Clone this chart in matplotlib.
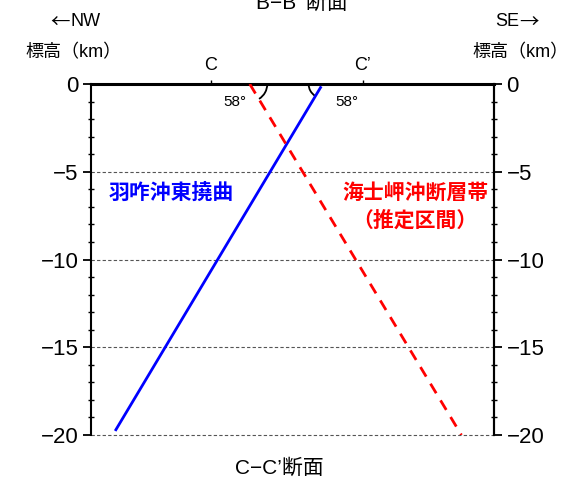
import numpy as np
import matplotlib
matplotlib.use('Agg')
import matplotlib.pyplot as plt
from matplotlib.patches import Arc

plt.rcParams['font.family'] = ['Liberation Sans', 'Noto Sans CJK JP', 'DejaVu Sans']
plt.rcParams['axes.unicode_minus'] = True

# data (km)
x_range = [0, 23]
y_range = [-20, 0]
y_ticks = [0, -5, -10, -15, -20]
grid_y = [-5, -10, -15, -20]
x_marks = [6.85, 15.5]
x_mark_labels = ['C', 'C\u2019']
blue_x = [1.42, 13.1]
blue_y = [-19.7, -0.2]
red_x = [9.06, 21.14]
red_y = [0.0, -20.0]
dip = 58

fig = plt.figure(figsize=(5.67, 4.8), dpi=100)
ax = fig.add_axes([91/567, 1-435/480, 403/567, 351/480])
ax.set_xlim(x_range)
ax.set_ylim(y_range)

for g in grid_y:
    ax.axhline(g, color='#555555', lw=0.8, ls=(0, (3, 2)), zorder=1, clip_on=False)

ax.plot(blue_x, blue_y, color='#0000ff', lw=2, zorder=3)
ax.plot(red_x, red_y, color='#ff0000', lw=2, ls=(0, (4, 3)), zorder=3)

# dip angle arcs
ax.add_patch(Arc((red_x[0], 0), 2.0, 2.0, theta1=-dip, theta2=0, color='k', lw=1.3, clip_on=False))
bx_top = blue_x[1] + (0 - blue_y[1]) * (blue_x[1] - blue_x[0]) / (blue_y[1] - blue_y[0])
ax.add_patch(Arc((bx_top, 0), 1.6, 1.6, theta1=180, theta2=180 + dip, color='k', lw=1.3, clip_on=False))
ax.text(8.2, -1.0, '58°', fontsize=11, ha='center', va='center')
ax.text(14.6, -1.0, '58°', fontsize=11, ha='center', va='center')

ax.spines['bottom'].set_visible(False)
ax.spines['top'].set_linewidth(2.2)
ax.spines['left'].set_linewidth(1.5)
ax.spines['right'].set_linewidth(1.5)

ax.set_xticks(x_marks)
ax.set_xticklabels(x_mark_labels, fontsize=13)
ax.xaxis.set_ticks_position('top')
ax.tick_params(axis='x', direction='out', length=3, width=1, pad=4)

tick_text = ['0', '\u22125', '\u221210', '\u221215', '\u221220']
ax.set_yticks(y_ticks)
ax.set_yticklabels(tick_text, fontsize=16)
ax.set_yticks(np.arange(-19, 0, 1), minor=True)
ax.tick_params(axis='y', which='major', direction='out', length=6, width=1.3, pad=3)
ax.tick_params(axis='y', which='minor', direction='inout', length=4, width=1)

ax2 = ax.twinx()
ax2.set_ylim(y_range)
ax2.set_yticks(y_ticks)
ax2.set_yticklabels(tick_text, fontsize=16)
ax2.set_yticks(np.arange(-19, 0, 1), minor=True)
ax2.tick_params(axis='y', which='major', direction='out', length=6, width=1.3, pad=3)
ax2.tick_params(axis='y', which='minor', direction='inout', length=4, width=1)
for s in ['top', 'bottom', 'left']:
    ax2.spines[s].set_visible(False)
ax2.spines['right'].set_linewidth(1.5)

cjk = ['Noto Sans CJK JP', 'DejaVu Sans']
ax.text(1.0, -6.2, '羽咋沖東撓曲', color='#0000ff', fontsize=15, family=cjk,
        fontweight='bold', ha='left', va='center')
ax.text(22.7, -6.2, '海士岬沖断層帯', color='#ff0000', fontsize=15, family=cjk,
        fontweight='bold', ha='right', va='center')
ax.text(18.5, -7.75, '（推定区間）', color='#ff0000', fontsize=15, family=cjk,
        fontweight='bold', ha='center', va='center')

fig.text(302/567, 1-3/480, 'B\u2212B\u2019 断面', fontsize=15, ha='center', va='center')
fig.text(279/567, 1-468/480, 'C\u2212C\u2019断面', fontsize=15, ha='center', va='center')
fig.text(70/567, 1-22/480, '←', fontsize=14, family=cjk, ha='right', va='center')
fig.text(70/567, 1-22/480, 'NW', fontsize=13, ha='left', va='center')
fig.text(74/567, 1-53/480, '標高（km）', fontsize=13, ha='center', va='center')
fig.text(519/567, 1-22/480, 'SE', fontsize=13, ha='right', va='center')
fig.text(519/567, 1-22/480, '→', fontsize=14, family=cjk, ha='left', va='center')
fig.text(472/567, 1-53/480, '標高（km）', fontsize=13, ha='left', va='center')

fig.savefig('out.png', dpi=100)
